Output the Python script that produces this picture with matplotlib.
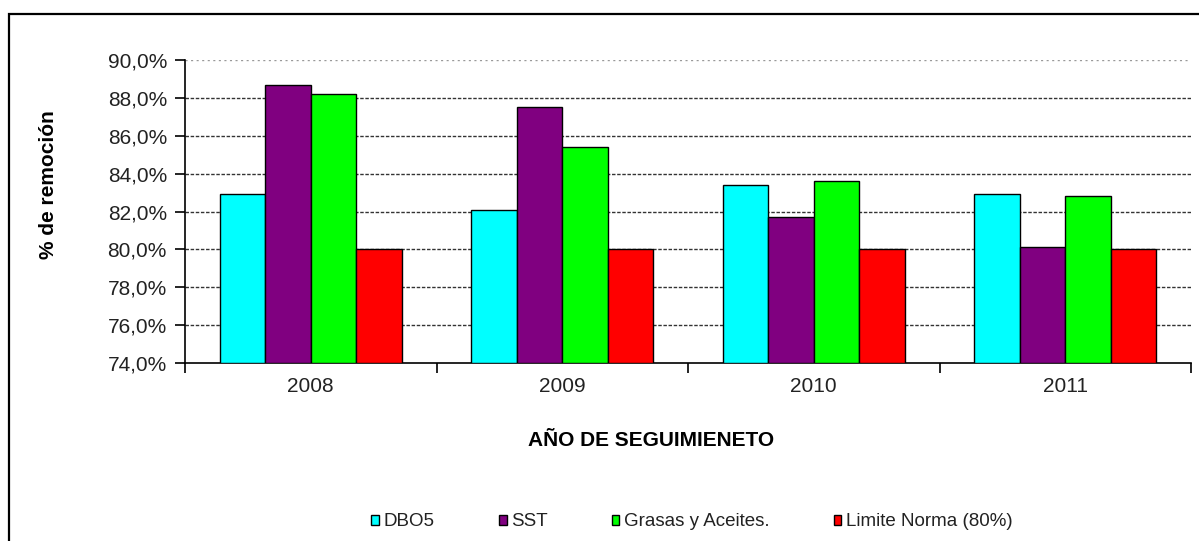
import numpy as np
import matplotlib
matplotlib.use('Agg')
import matplotlib.pyplot as plt
from matplotlib.patches import Rectangle
from matplotlib.ticker import FuncFormatter, FixedLocator

plt.rcParams['font.family'] = ['Liberation Sans', 'DejaVu Sans']

# Data
years = ['2008', '2009', '2010', '2011']
dbo5 = [82.9, 82.1, 83.4, 82.9]
sst = [88.7, 87.5, 81.7, 80.1]
grasas = [88.2, 85.4, 83.6, 82.8]
limite = [80.0, 80.0, 80.0, 80.0]

series = [
    ('DBO5', dbo5, '#00FFFF'),
    ('SST', sst, '#800080'),
    ('Grasas y Aceites.', grasas, '#00FF00'),
    ('Limite Norma (80%)', limite, '#FF0000'),
]

fig = plt.figure(figsize=(11.99, 5.41), dpi=100)
ax = fig.add_axes([185 / 1199, 1 - 363 / 541, (1191 - 185) / 1199, (363 - 60) / 541])

x = np.arange(len(years))
w = 0.181
for i, (name, vals, col) in enumerate(series):
    ax.bar(x + (i - 1.5) * w, np.array(vals) - 74, bottom=74, width=w,
           color=col, edgecolor='black', linewidth=1.0, label=name, zorder=3)

ax.set_xlim(-0.5, len(years) - 0.5)
ax.set_ylim(74, 90)

# gridlines
for yv in range(76, 90, 2):
    ax.axhline(yv, color='#333333', linestyle=(0, (2.5, 1.2)), linewidth=1.0, zorder=1)
ax.axhline(90, color='#999999', linestyle=(0, (1.5, 2.5)), linewidth=1.0, zorder=1)

ax.yaxis.set_major_locator(FixedLocator(np.arange(74, 90.1, 2)))
ax.yaxis.set_major_formatter(FuncFormatter(lambda v, p: f'{v:.1f}%'.replace('.', ',')))
ax.tick_params(axis='y', direction='out', length=7, width=1.2, labelsize=15,
               labelcolor='#222222', pad=6)

ax.set_xticks(x)
ax.set_xticklabels(years)
ax.set_xticks(np.arange(-0.5, len(years), 1), minor=True)
ax.tick_params(axis='x', which='major', length=0, labelsize=15, pad=10, labelcolor='#222222')
ax.tick_params(axis='x', which='minor', direction='out', length=7, width=1.2)

for s in ['top', 'right']:
    ax.spines[s].set_visible(False)
for s in ['left', 'bottom']:
    ax.spines[s].set_linewidth(1.2)

fig.text(49 / 1199, 1 - 185 / 541, '% de remoción', rotation=90, ha='center', va='center',
         fontsize=15, fontweight='bold')
fig.text(651 / 1199, 1 - 441 / 541, 'AÑO DE SEGUIMIENETO', ha='center', va='center',
         fontsize=15, fontweight='bold')

leg = fig.legend(loc='center', bbox_to_anchor=(692 / 1199, 1 - 522 / 541), ncol=4,
                 frameon=False, fontsize=13.5, handlelength=0.42, handleheight=0.42,
                 handletextpad=0.25, columnspacing=3.4)
for t in leg.get_texts():
    t.set_color('#222222')

# outer frame
fig.patches.append(Rectangle((9 / 1199, -0.1), 1.2, 1 - 14 / 541 + 0.1, transform=fig.transFigure,
                             fill=False, edgecolor='black', linewidth=1.6))

fig.savefig('out.png', dpi=100)
